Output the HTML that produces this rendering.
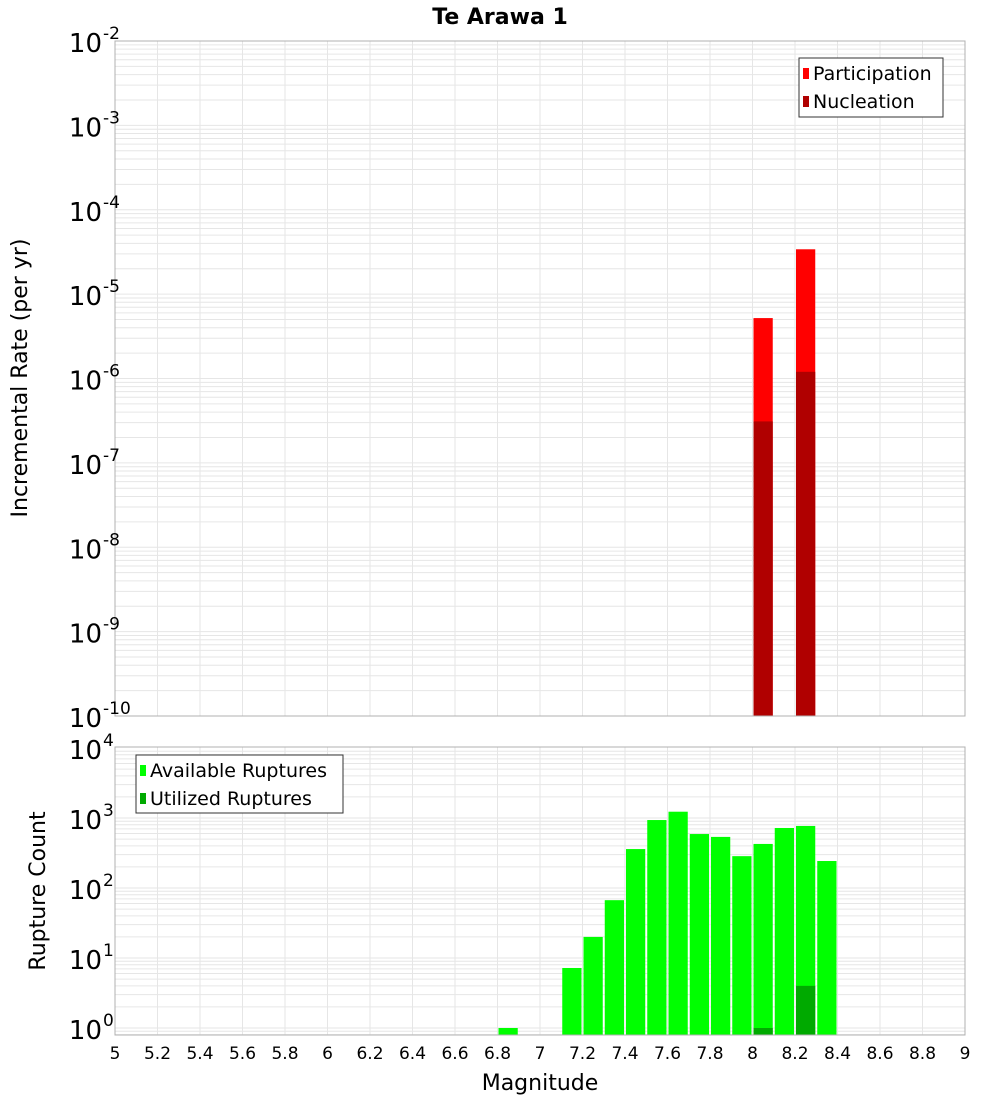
<!DOCTYPE html>
<html><head><meta charset="utf-8"><style>
body{margin:0;background:#fff;}
svg text{font-family:"DejaVu Sans","Liberation Sans",sans-serif;}
</style></head><body>
<svg id="chart" width="1000" height="1100" xmlns="http://www.w3.org/2000/svg">
<text x="500" y="24" text-anchor="middle" font-size="22" font-weight="bold">Te Arawa 1</text>
<g id="topPanel"></g>
<g id="botPanel"></g>
<text transform="translate(27,378) rotate(-90)" text-anchor="middle" font-size="22">Incremental Rate (per yr)</text>
<text transform="translate(45,891) rotate(-90)" text-anchor="middle" font-size="22">Rupture Count</text>
<text x="540" y="1090" text-anchor="middle" font-size="22">Magnitude</text>
</svg>
<script>
const mags = [5.0,5.2,5.4,5.6,5.8,6.0,6.2,6.4,6.6,6.8,7.0,7.2,7.4,7.6,7.8,8.0,8.2,8.4,8.6,8.8,9.0];
const tickLabels = ["5","5.2","5.4","5.6","5.8","6","6.2","6.4","6.6","6.8","7","7.2","7.4","7.6","7.8","8","8.2","8.4","8.6","8.8","9"];
const rateBins = [8.0, 8.2];
const participation = [5.2e-6, 3.4e-5];
const nucleation = [3.1e-7, 1.2e-6];
const countBins = [6.8,7.1,7.2,7.3,7.4,7.5,7.6,7.7,7.8,7.9,8.0,8.1,8.2,8.3];
const available = [1,7.2,20,67,360,935,1230,590,537,285,426,720,770,243];
const utilBins = [8.0, 8.2];
const utilized = [1, 4];

const NS="http://www.w3.org/2000/svg";
const X0=115,X1=965;
const xs=m=>X0+(m-5)*(X1-X0)/4;
const T0=41,T1=716;
const yTop=v=>T0+(-2-Math.log10(v))*(T1-T0)/8;
const B0=747,B1=1035;
const yBot=v=>1028-Math.log10(v)*70;
function mk(p,tag,a){const e=document.createElementNS(NS,tag);for(const k in a)e.setAttribute(k,a[k]);p.appendChild(e);return e;}
const topG=document.getElementById('topPanel'), botG=document.getElementById('botPanel');

function grid(g,y0,y1,yf,d0,d1){
  for(let d=d0;d<=d1;d++){for(let k=1;k<10;k++){const y=yf(k*Math.pow(10,d));if(y>=y0&&y<=y1){const l=mk(g,'line',{x1:X0,x2:X1,y1:y,y2:y,stroke:'#e6e6e6','stroke-width':1});}}}
  mags.forEach(m=>{const x=xs(m);const l=mk(g,'line',{x1:x,x2:x,y1:y0,y2:y1,stroke:'#e6e6e6','stroke-width':1});});
}
grid(topG,T0,T1,yTop,-10,-3);
grid(botG,B0,B1,yBot,-1,3);

rateBins.forEach((m,i)=>{
  const x=xs(m)+1,w=xs(m+0.1)-xs(m)-2;
  const r=mk(topG,'rect',{x:x,y:yTop(participation[i]),width:w,height:T1-yTop(participation[i]),fill:'#ff0000'});
  
  
  const n=mk(topG,'rect',{x:x,y:yTop(nucleation[i]),width:w,height:T1-yTop(nucleation[i]),fill:'#b00000'});
  
  
});
countBins.forEach((m,i)=>{
  const x=xs(m)+1,w=xs(m+0.1)-xs(m)-2;
  const r=mk(botG,'rect',{x:x,y:yBot(available[i]),width:w,height:B1-yBot(available[i]),fill:'#00ff00'});
  
  
});
utilBins.forEach((m,i)=>{
  const x=xs(m)+1,w=xs(m+0.1)-xs(m)-2;
  const r=mk(botG,'rect',{x:x,y:yBot(utilized[i]),width:w,height:B1-yBot(utilized[i]),fill:'#00aa00'});
  
  
});
[[topG,T0,T1],[botG,B0,B1]].forEach(([g,a,b])=>{const f=mk(g,'rect',{x:X0,y:a,width:X1-X0,height:b-a,fill:'none',stroke:'#b0b0b0'});
  
  });
function ylab(g,y,e){const t=mk(g,'text',{x:102,y:y+11,'text-anchor':'end','font-size':26});t.textContent='10';
  
  
  const s=mk(g,'text',{x:103,y:y-2,'font-size':17});s.textContent=e;
  
  }
for(let d=-10;d<=-2;d++)ylab(topG,yTop(Math.pow(10,d)),String(d));
for(let d=0;d<=4;d++)ylab(botG,yBot(Math.pow(10,d)),String(d));
mags.forEach((m,i)=>{const t=mk(botG,'text',{x:xs(m),y:1059,'text-anchor':'middle','font-size':17});t.textContent=tickLabels[i];
  
  });
function legend(g,x,y,w,h,items){const b=mk(g,'rect',{x:x,y:y,width:w,height:h,fill:'#fff',stroke:'#333'});
  
  
  items.forEach(([lab,c],i)=>{const cy=y+15+i*28;const s=mk(g,'rect',{x:x+4,y:cy-5,width:6,height:11,fill:c});
  
  
  const t=mk(g,'text',{x:x+14,y:cy+7,'font-size':19});t.textContent=lab;
  
  });}
legend(topG,799,58,144,59,[['Participation','#ff0000'],['Nucleation','#b00000']]);
legend(botG,136,755,207,58,[['Available Ruptures','#00ff00'],['Utilized Ruptures','#00aa00']]);
</script>
</body></html>
